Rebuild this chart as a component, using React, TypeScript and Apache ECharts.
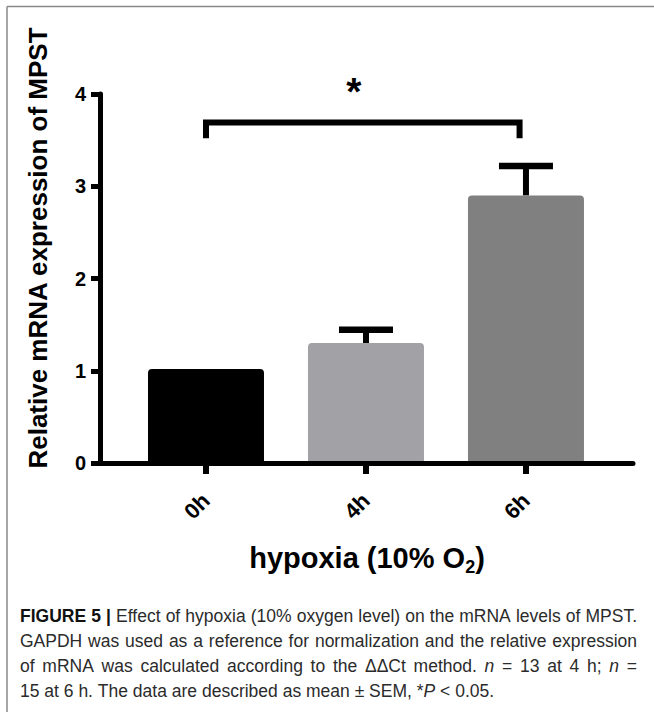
import React, { useEffect, useRef } from 'react';
import * as echarts from 'echarts';

// ---- data ----
const categories = ['0h', '4h', '6h'];
const means = [1.02, 1.3, 2.9];
const sems = [0, 0.145, 0.32];
const barColors = ['#000000', '#a2a1a6', '#808080'];
const yTicks = [0, 1, 2, 3, 4];
const bracketX = [0, 1.96];
const bracketY = [3.69, 3.52];
const sigLabel = '*';

const yTitle = 'Relative mRNA expression of MPST';
const xTitleMain = 'hypoxia (10% O';
const xTitleSub = '2';
const xTitleEnd = ')';

// caption: **bold**, _italic_ ; last line is not justified
const captionLines = [
  '**FIGURE** **5** **|** Effect of hypoxia (10% oxygen level) on the mRNA levels of MPST.',
  'GAPDH was used as a reference for normalization and the relative expression',
  'of mRNA was calculated according to the \u0394\u0394Ct method. _n_ = 13 at 4 h; _n_ =',
  '15 at 6 h. The data are described as mean \u00b1 SEM, *_P_ < 0.05.',
];

const FONT = "'Liberation Sans', Arial, Helvetica, sans-serif";
const X_MIN = -0.6625;
const X_MAX = 2.669;

type Seg = { t: string; s: 'r' | 'b' | 'i' };

function parseWord(w: string): Seg[] {
  if (w.startsWith('**') && w.endsWith('**') && w.length > 4) return [{ t: w.slice(2, -2), s: 'b' }];
  const parts = w.split(/(_[^_]+_)/).filter((p) => p.length > 0);
  return parts.map((p) => (p.length > 2 && p.startsWith('_') && p.endsWith('_') ? { t: p.slice(1, -1), s: 'i' as const } : { t: p, s: 'r' as const }));
}

export default function App() {
  const ref = useRef<HTMLDivElement>(null);

  useEffect(() => {
    document.body.style.margin = '0';
    const chart = echarts.init(ref.current!, undefined, { renderer: 'svg' });
    const catIdx = categories.map((_, i) => i);
    const capFont = 17.5;
    const capColor = '#2b2b2b';
    const boldColor = '#111';
    const capY = [616, 641, 666, 690.5];
    const capLeft = 20;
    const capRight = 637;

    const canvas = document.createElement('canvas');
    const ctx = canvas.getContext('2d')!;
    const fontOf = (s: string) =>
      (s === 'i' ? 'italic ' : '') + (s === 'b' ? 'bold ' : '') + capFont + 'px ' + FONT;
    const measure = (segs: Seg[]) =>
      segs.reduce((acc, g) => {
        ctx.font = fontOf(g.s);
        return acc + ctx.measureText(g.t).width;
      }, 0);
    ctx.font = fontOf('r');
    const spaceW = ctx.measureText(' ').width;

    const richStyles: any = {
      r: { fontSize: capFont, fontFamily: FONT, fill: capColor, color: capColor },
      b: { fontSize: capFont, fontFamily: FONT, fontWeight: 'bold', fill: boldColor, color: boldColor },
      i: { fontSize: capFont, fontFamily: FONT, fontStyle: 'italic', fill: capColor, color: capColor },
    };

    const captionGraphics: any[] = [];
    captionLines.forEach((line, k) => {
      const words = line.split(' ').map(parseWord);
      const widths = words.map(measure);
      const total = widths.reduce((a, b) => a + b, 0);
      const justify = k < captionLines.length - 1;
      const gap = justify && words.length > 1 ? (capRight - capLeft - total) / (words.length - 1) : spaceW;
      let x = capLeft;
      words.forEach((segs, j) => {
        captionGraphics.push({
          type: 'text',
          x,
          y: capY[k],
          style: {
            text: segs.map((g) => '{' + g.s + '|' + g.t + '}').join(''),
            fontSize: capFont,
            fontFamily: FONT,
            fill: capColor,
            align: 'left',
            verticalAlign: 'middle',
            rich: richStyles,
          },
        });
        x += widths[j] + gap;
      });
    });

    const option: any = {
      animation: false,
      backgroundColor: '#ffffff',
      grid: { left: 100, right: 21, top: 94, bottom: 249, containLabel: false },
      xAxis: {
        type: 'value',
        min: X_MIN,
        max: X_MAX,
        z: 5,
        axisLine: { show: true, onZero: false, lineStyle: { color: '#000', width: 5 } },
        axisTick: { show: true, customValues: catIdx, length: 11, lineStyle: { color: '#000', width: 6 } },
        axisLabel: {
          show: true,
          customValues: catIdx,
          rotate: 45,
          margin: 34,
          formatter: (v: number) => categories[Math.round(v)] ?? '',
          color: '#000',
          fontSize: 22,
          fontWeight: 'bold',
          fontFamily: FONT,
        },
        splitLine: { show: false },
      },
      yAxis: {
        type: 'value',
        min: yTicks[0],
        max: yTicks[yTicks.length - 1],
        interval: 1,
        z: 5,
        axisLine: { show: true, onZero: false, lineStyle: { color: '#000', width: 5 } },
        axisTick: { show: true, length: 9, lineStyle: { color: '#000', width: 5 } },
        axisLabel: { margin: 14, fontSize: 20, fontWeight: 'bold', color: '#000', fontFamily: FONT },
        splitLine: { show: false },
      },
      series: [
        {
          type: 'custom',
          z: 1,
          encode: { x: 0, y: [1, 2] },
          data: categories.map((_, i) => [i, means[i], sems[i]]),
          renderItem: (params: any, api: any) => {
            const i = api.value(0);
            const m = api.value(1);
            const s = api.value(2);
            if (!s) return { type: 'group', children: [] };
            const base = api.coord([i, m]);
            const top = api.coord([i, m + s]);
            const half = 27;
            return {
              type: 'group',
              children: [
                { type: 'line', shape: { x1: top[0], y1: base[1], x2: top[0], y2: top[1] }, style: { stroke: '#000', lineWidth: 6 } },
                { type: 'line', shape: { x1: top[0] - half, y1: top[1], x2: top[0] + half, y2: top[1] }, style: { stroke: '#000', lineWidth: 6.5 } },
              ],
            };
          },
        },
        {
          type: 'bar',
          z: 2,
          barWidth: 116,
          itemStyle: { borderRadius: [4, 4, 0, 0] },
          data: means.map((m, i) => ({ value: [i, m], itemStyle: { color: barColors[i] } })),
        },
        {
          type: 'custom',
          z: 3,
          encode: { x: [0, 1], y: [2, 3] },
          data: [[bracketX[0], bracketX[1], bracketY[0], bracketY[1]]],
          renderItem: (params: any, api: any) => {
            const x0 = api.value(0);
            const x1 = api.value(1);
            const yTop = api.value(2);
            const yLeg = api.value(3);
            const p1 = api.coord([x0, yLeg]);
            const p2 = api.coord([x0, yTop]);
            const p3 = api.coord([x1, yTop]);
            const p4 = api.coord([x1, yLeg]);
            const mid = api.coord([(x0 + x1) / 2, yTop]);
            return {
              type: 'group',
              children: [
                {
                  type: 'polyline',
                  shape: { points: [p1, p2, p3, p4] },
                  style: { stroke: '#000', lineWidth: 6, fill: 'none', lineJoin: 'miter' },
                },
                {
                  type: 'text',
                  x: mid[0] - 9,
                  y: mid[1] - 31,
                  style: { text: sigLabel, fontSize: 39, fontWeight: 'bold', fontFamily: FONT, fill: '#000', align: 'center', verticalAlign: 'middle' },
                },
              ],
            };
          },
        },
      ],
      graphic: [
        { type: 'line', shape: { x1: 7, y1: 6.5, x2: 654, y2: 6.5 }, style: { stroke: '#888', lineWidth: 1.5 } },
        { type: 'line', shape: { x1: 7, y1: 6.5, x2: 7, y2: 712 }, style: { stroke: '#888', lineWidth: 1.5 } },
        {
          type: 'text',
          x: 38,
          y: 248,
          rotation: Math.PI / 2,
          style: { text: yTitle, fontSize: 26, fontWeight: 'bold', fontFamily: FONT, fill: '#000', align: 'center', verticalAlign: 'middle' },
        },
        {
          type: 'text',
          x: 367,
          y: 558,
          style: {
            text: '{m|' + xTitleMain + '}{s|' + xTitleSub + '}{m|' + xTitleEnd + '}',
            align: 'center',
            verticalAlign: 'middle',
            fontSize: 29,
            fontWeight: 'bold',
            fontFamily: FONT,
            fill: '#000',
            rich: {
              m: { fontSize: 29, fontWeight: 'bold', fontFamily: FONT, fill: '#000', lineHeight: 36 },
              s: { fontSize: 18, fontWeight: 'bold', fontFamily: FONT, fill: '#000', lineHeight: 10, verticalAlign: 'bottom' },
            },
          },
        },
        ...captionGraphics,
      ],
    };
    chart.setOption(option);
    return () => chart.dispose();
  }, []);

  return <div ref={ref} style={{ width: 654, height: 712 }} />;
}
